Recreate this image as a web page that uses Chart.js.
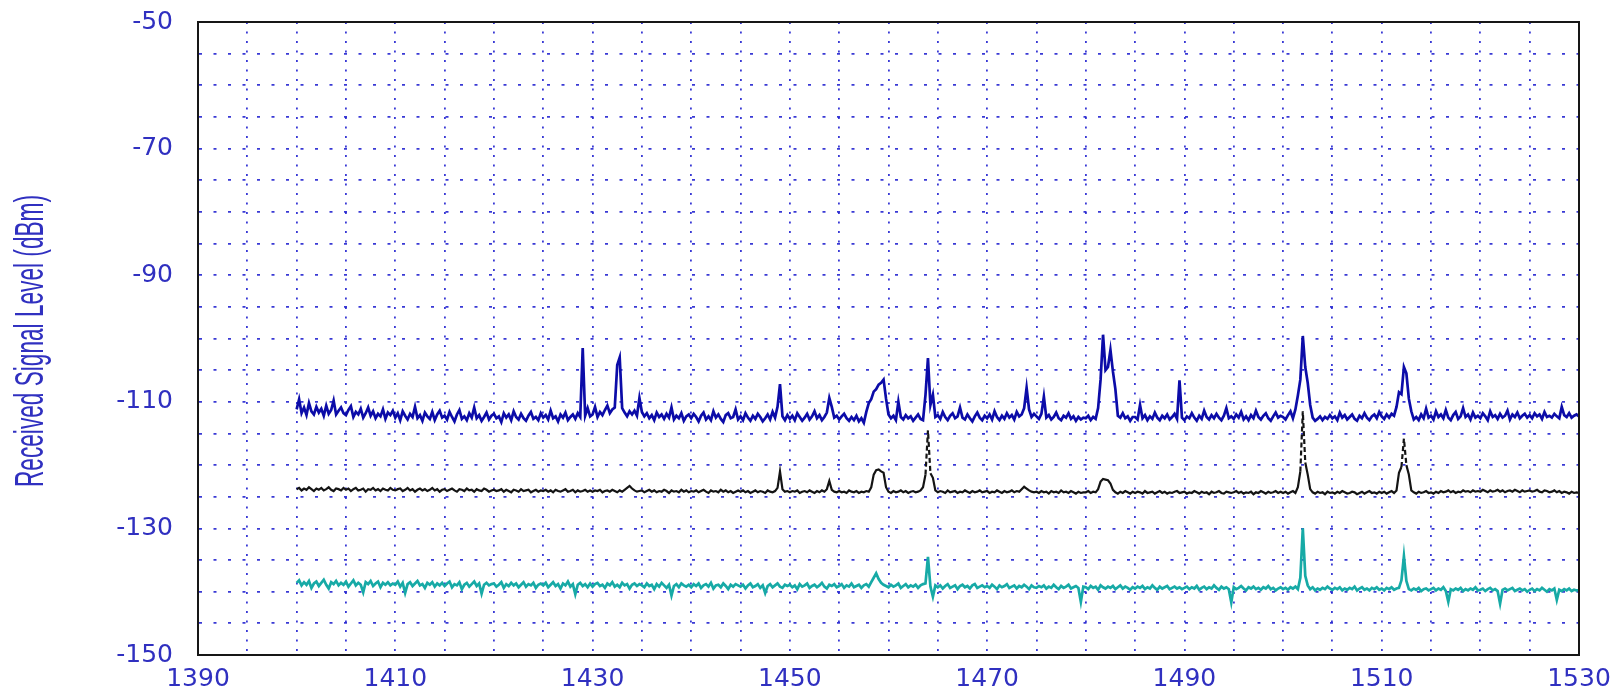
<!DOCTYPE html>
<html>
<head>
<meta charset="utf-8">
<title>Received Signal Level</title>
<script src="https://cdn.jsdelivr.net/npm/chart.js@4.4.1/dist/chart.umd.min.js"></script>
<style>
    html, body { margin: 0; padding: 0; background: #ffffff; }
    #wrap { width: 1621px; height: 694px; }
</style>
</head>
<body>
<div id="wrap"><canvas id="spectrumChart" width="1621" height="694"></canvas></div>
<script>
const AXIS_TITLE = 'Received Signal Level (dBm)';
const LABEL_COLOR = '#3030c0';
const GRID_COLOR = 'rgba(36,36,208,0.9)';

// sweep: 1400 MHz .. 1530 MHz, one sample every 0.25 MHz
const sweepStartMHz = 1400;
const sweepStepMHz = 0.25;

// x axis 1390..1530, y axis -150..-50 (labels every 20, grid every 5)
const xRange = [1390, 1530];
const yRange = [-150, -50];

// upper trace (blue)
const blueTrace = [
    -111.2, -109.6, -111.8, -110.9, -112.1, -110.2, -111.5, -112.0, -110.8, -111.7, -111.1, -112.2, -110.6, -111.9, -111.3, -109.8, -112.0, -111.4, -110.9, -111.8,
    -112.1, -111.3, -110.7, -112.4, -111.6, -112.0, -111.1, -112.5, -111.8, -110.9, -112.2, -111.5, -112.6, -111.9, -112.3, -111.2, -112.7, -111.7, -112.1, -111.4,
    -112.5, -111.8, -112.9, -111.5, -112.2, -112.8, -111.9, -112.4, -110.8, -112.6, -112.1, -113.0, -111.7, -112.3, -112.7, -111.6, -112.9, -112.0, -111.4, -112.5,
    -112.2, -112.8, -111.6, -112.4, -113.1, -112.0, -111.3, -112.7, -112.3, -112.9, -111.8, -112.5, -110.9, -112.6, -112.1, -113.0, -112.4, -111.7, -112.8, -112.2,
    -111.9, -112.6, -112.3, -113.2, -111.8, -112.5, -112.0, -112.9, -111.5, -112.4, -112.8, -111.9, -112.6, -113.0, -112.2, -111.6, -112.7, -112.4, -112.9, -111.8,
    -112.5, -112.1, -112.8, -111.4, -112.6, -112.3, -113.1, -112.0, -112.5, -111.7, -112.9, -112.4, -112.0, -112.7, -111.8, -112.4, -101.5, -112.2, -111.0, -112.3,
    -112.0, -110.8, -112.4, -111.6, -112.1, -111.3, -110.6, -111.8, -111.2, -110.9, -104.2, -103.0, -111.0, -111.7, -112.3, -111.5, -112.0, -111.4, -112.2, -109.4,
    -111.6, -112.3, -111.8, -112.6, -112.1, -112.9, -111.7, -112.4, -112.0, -112.7, -111.9, -112.5, -110.9, -112.8, -112.2, -112.6, -111.8, -113.0, -112.3, -112.0,
    -112.6, -111.9, -112.4, -113.1, -112.2, -111.7, -112.8, -112.3, -112.9, -111.5, -112.5, -112.0, -112.7, -113.2, -112.1, -111.8, -112.6, -112.4, -111.2, -112.8,
    -112.3, -112.9, -111.8, -112.5, -113.0, -112.2, -112.7, -111.9, -112.4, -113.1, -112.6, -112.0, -112.8, -111.6, -112.5, -110.8, -107.2, -112.3, -112.9, -112.1,
    -112.7, -112.2, -112.9, -111.8, -112.4, -113.0, -112.5, -111.9, -112.8, -112.3, -111.5, -112.6, -112.1, -112.9, -112.4, -111.7, -109.4, -110.8, -112.5, -112.2,
    -112.8, -112.3, -111.9, -112.6, -113.0, -112.4, -112.9, -112.2, -113.1, -112.6, -113.3, -111.6, -110.2, -109.6, -108.4, -108.0, -107.3, -107.0, -106.5, -109.5,
    -112.0, -112.6, -112.2, -112.9, -110.0, -112.4, -112.8, -112.1, -112.6, -112.3, -113.0, -112.5, -112.0, -112.7, -112.9, -108.9, -103.1, -110.5, -108.9, -112.4,
    -112.1, -112.7, -111.6, -112.4, -112.9, -112.2, -111.8, -112.6, -112.3, -110.9, -112.5, -112.8, -112.0, -112.6, -113.1, -112.3, -111.7, -112.5, -112.9, -112.2,
    -112.6, -112.0, -112.8, -111.5, -112.4, -112.9, -112.2, -112.7, -111.8, -112.5, -112.1, -112.8, -111.6, -112.3, -112.0, -111.0, -107.8, -111.2, -112.4, -111.9,
    -112.3, -112.7, -111.9, -109.2, -112.5, -112.1, -112.8, -112.4, -111.7, -112.6, -112.9, -112.2, -112.5, -111.8, -112.7, -112.3, -113.0, -112.4, -112.8, -112.5,
    -112.6, -112.2, -112.9, -112.4, -112.7, -111.0, -106.5, -99.4, -105.0, -104.5, -101.8, -105.2, -108.0, -112.2, -112.5, -111.8, -112.6, -112.3, -113.0, -112.4,
    -112.4, -112.8, -110.5, -112.6, -112.1, -112.9, -112.3, -112.7, -111.7, -112.5, -112.9, -112.2, -112.6, -112.0, -112.8, -112.4, -111.9, -112.7, -106.6, -112.5,
    -112.9, -112.3, -112.6, -111.8, -112.5, -113.0, -112.2, -112.7, -111.4, -112.4, -112.8, -112.1, -112.6, -111.9, -112.5, -112.9, -112.2, -111.0, -112.6, -112.3,
    -112.7, -112.0, -112.5, -111.6, -112.8, -112.3, -112.9, -112.1, -112.6, -111.4, -112.4, -112.8, -112.2, -111.8, -112.6, -113.0, -112.3, -111.7, -112.5, -112.2,
    -112.4, -112.8, -112.1, -111.5, -112.6, -111.2, -109.0, -106.5, -99.6, -104.5, -107.0, -110.5, -112.5, -113.0, -112.7, -112.3, -112.9, -112.4, -112.7, -112.1,
    -112.6, -112.3, -112.9, -111.7, -112.5, -112.1, -112.8, -112.4, -112.0, -112.7, -113.0, -112.2, -112.6, -111.8, -112.5, -112.9, -112.3, -112.0, -112.6, -111.6,
    -112.3, -112.7, -112.0, -112.5, -111.9, -112.2, -110.8, -108.5, -108.8, -104.5, -105.5, -109.5, -111.5, -112.8, -112.4, -112.9, -112.0, -112.6, -111.1, -112.5,
    -112.2, -112.8, -111.5, -112.4, -112.0, -112.6, -111.3, -112.5, -112.9, -112.1, -111.6, -112.7, -112.3, -111.0, -112.4, -112.0, -112.8, -111.7, -112.5, -112.2,
    -112.6, -111.8, -112.3, -112.9, -111.5, -112.4, -112.1, -112.7, -111.9, -112.5, -112.2, -111.4, -112.8, -112.0, -112.4, -111.7, -112.6, -112.2, -111.9, -112.5,
    -112.1, -112.6, -111.8, -112.3, -112.0, -112.7, -111.6, -112.4, -112.2, -112.5, -111.9, -112.3, -112.6, -110.8, -112.1, -112.4, -111.8, -112.5, -112.2, -112.0,
    -112.3
];

// middle trace (black)
const blackTrace = [
    -123.8, -123.6, -124.0, -123.7, -123.9, -123.5, -123.8, -124.1, -123.7, -123.9, -123.6, -124.0, -123.8, -123.5, -123.9, -124.1, -123.7, -123.8, -124.0, -123.6,
    -123.9, -123.7, -124.1, -123.8, -123.6, -124.0, -123.9, -123.7, -124.2, -123.8, -123.9, -123.6, -124.0, -123.8, -124.1, -123.7, -123.9, -124.0, -123.6, -123.9,
    -124.0, -123.8, -123.7, -124.1, -123.9, -123.6, -124.0, -123.8, -124.2, -123.9, -123.7, -124.0, -123.8, -124.1, -123.9, -123.6, -124.0, -123.8, -124.2, -123.9,
    -123.8, -124.1, -123.9, -123.7, -124.0, -124.2, -123.8, -123.9, -124.1, -123.7, -124.0, -123.9, -124.2, -123.8, -124.0, -124.1, -123.7, -123.9, -124.2, -124.0,
    -123.9, -124.1, -124.0, -123.8, -124.2, -123.9, -124.1, -124.3, -123.9, -124.0, -124.2, -123.8, -124.1, -124.0, -123.9, -124.3, -124.1, -123.9, -124.2, -124.0,
    -124.1, -123.9, -124.2, -124.0, -124.3, -123.9, -124.1, -124.2, -124.0, -123.8, -124.2, -124.1, -123.9, -124.3, -124.0, -124.2, -124.1, -123.9, -124.2, -124.0,
    -124.2, -124.0, -124.1, -123.9, -124.3, -124.1, -124.0, -124.2, -123.9, -124.1, -124.3, -124.0, -124.2, -123.9, -123.6, -123.3, -123.7, -124.0, -124.2, -124.1,
    -124.0, -124.3, -124.1, -123.9, -124.2, -124.0, -124.3, -124.1, -124.2, -123.9, -124.1, -124.4, -124.0, -124.2, -124.1, -124.3, -123.9, -124.2, -124.0, -124.3,
    -124.1, -124.2, -124.0, -124.3, -124.1, -123.9, -124.2, -124.4, -124.0, -124.2, -124.1, -124.3, -123.9, -124.2, -124.0, -124.3, -124.1, -124.4, -124.2, -124.0,
    -124.2, -124.0, -124.3, -124.1, -124.4, -124.2, -124.0, -124.3, -124.1, -124.2, -124.4, -124.0, -124.2, -124.3, -124.1, -123.6, -121.0, -123.8, -124.2, -124.1,
    -124.3, -124.1, -124.2, -124.0, -124.4, -124.2, -124.1, -124.3, -124.0, -124.2, -124.4, -124.1, -124.3, -124.0, -124.2, -123.8, -122.5, -123.9, -124.2, -124.3,
    -124.1, -124.3, -124.2, -124.4, -124.0, -124.2, -124.3, -124.1, -124.4, -124.2, -124.3, -124.1, -124.2, -123.5, -121.5, -120.8, -120.7, -121.0, -121.2, -123.5,
    -124.2, -124.4, -124.1, -124.3, -124.2, -124.0, -124.3, -124.1, -124.4, -124.2, -124.1, -124.3, -124.2, -124.0, -123.5, -121.5, -114.5, -121.3, -122.0, -124.0,
    -124.3, -124.1, -124.2, -124.4, -124.0, -124.3, -124.2, -124.1, -124.4, -124.2, -124.3, -124.0, -124.2, -124.4, -124.1, -124.3, -124.2, -124.0, -124.3, -124.2,
    -124.1, -124.4, -124.2, -124.3, -124.0, -124.2, -124.4, -124.1, -124.3, -124.2, -124.0, -124.3, -124.1, -124.2, -123.8, -123.4, -123.7, -124.0, -124.2, -124.3,
    -124.2, -124.4, -124.1, -124.3, -124.2, -124.5, -124.1, -124.3, -124.2, -124.4, -124.0, -124.3, -124.2, -124.4, -124.1, -124.3, -124.5, -124.2, -124.4, -124.3,
    -124.3, -124.1, -124.4, -124.2, -124.3, -123.8, -122.6, -122.2, -122.3, -122.4, -122.9, -123.9, -124.3, -124.5, -124.2, -124.4, -124.1, -124.3, -124.5, -124.2,
    -124.4, -124.2, -124.3, -124.5, -124.1, -124.4, -124.3, -124.2, -124.5, -124.3, -124.1, -124.4, -124.2, -124.5, -124.3, -124.4, -124.2, -124.1, -124.4, -124.3,
    -124.2, -124.5, -124.3, -124.4, -124.1, -124.3, -124.5, -124.2, -124.4, -124.3, -124.6, -124.2, -124.4, -124.3, -124.1, -124.4, -124.5, -124.2, -124.3, -124.4,
    -124.3, -124.1, -124.4, -124.2, -124.5, -124.3, -124.4, -124.2, -124.6, -124.3, -124.4, -124.1, -124.3, -124.5, -124.2, -124.4, -124.3, -124.1, -124.4, -124.2,
    -124.4, -124.2, -124.5, -124.3, -124.1, -124.4, -123.5, -121.0, -111.5, -119.6, -121.5, -123.8, -124.3, -124.5, -124.2, -124.4, -124.3, -124.6, -124.2, -124.4,
    -124.3, -124.5, -124.2, -124.4, -124.1, -124.3, -124.5, -124.4, -124.2, -124.3, -124.6, -124.4, -124.2, -124.5, -124.3, -124.1, -124.4, -124.3, -124.5, -124.2,
    -124.4, -124.2, -124.5, -124.3, -124.1, -124.4, -124.0, -121.2, -120.3, -115.8, -120.0, -121.5, -124.0, -124.3, -124.5, -124.2, -124.4, -124.3, -124.1, -124.4,
    -124.3, -124.5, -124.2, -124.4, -124.1, -124.3, -124.2, -124.0, -124.3, -124.1, -124.4, -124.2, -124.3, -124.0, -124.2, -124.1, -124.3, -124.0, -124.2, -124.1,
    -124.2, -123.9, -124.1, -124.3, -124.0, -124.2, -124.1, -123.9, -124.2, -124.0, -124.3, -124.1, -124.0, -124.2, -123.9, -124.1, -124.3, -124.0, -124.2, -124.1,
    -124.0, -124.2, -124.1, -123.9, -124.2, -124.3, -124.0, -124.1, -124.3, -124.2, -124.0, -124.3, -124.1, -124.4, -124.2, -124.3, -124.5, -124.2, -124.4, -124.3,
    -124.4
];

// lower trace (cyan)
const cyanTrace = [
    -138.6, -138.2, -139.0, -138.5, -138.9, -138.3, -139.4, -138.7, -138.4, -139.1, -138.6, -138.1, -138.9, -139.5, -138.5, -138.8, -138.3, -139.0, -138.6, -138.9,
    -138.4, -139.2, -138.7, -138.2, -139.0, -138.6, -138.9, -140.1, -138.5, -138.8, -138.3, -139.1, -138.7, -138.4, -139.3, -138.6, -138.9, -138.5, -139.0, -138.7,
    -138.9, -138.4, -139.2, -138.6, -140.2, -138.8, -138.5, -139.1, -138.7, -138.3, -139.0, -138.8, -139.4, -138.6, -138.9, -138.5, -139.2, -138.7, -139.0, -138.6,
    -139.1, -138.7, -138.4, -139.3, -138.8, -139.0, -138.5, -139.6, -138.9, -138.6, -139.2, -138.8, -138.4, -139.1, -138.7, -140.3, -138.9, -138.6, -139.0, -138.8,
    -138.7, -139.2, -138.9, -138.5, -139.4, -138.8, -139.1, -138.6, -139.0, -138.7, -139.3, -138.9, -138.5, -139.2, -138.8, -139.0, -138.6, -139.4, -138.9, -138.7,
    -139.0, -138.6, -139.3, -138.9, -138.5, -139.1, -138.8, -139.5, -138.7, -139.0, -138.4, -139.2, -138.8, -140.4, -138.9, -138.6, -139.1, -138.8, -139.3, -138.7,
    -139.2, -138.8, -138.6, -139.1, -138.9, -139.4, -138.7, -139.0, -138.5, -139.2, -138.9, -139.3, -138.6, -139.0, -138.8, -139.5, -138.9, -138.7, -139.1, -138.8,
    -139.0, -139.3, -138.7, -139.1, -138.9, -139.6, -138.8, -139.2, -138.6, -139.0, -139.4, -138.9, -140.6, -139.1, -138.8, -139.3, -138.7, -139.0, -139.2, -138.9,
    -139.3, -138.8, -139.1, -138.7, -139.4, -139.0, -138.8, -139.2, -138.6, -139.5, -139.0, -138.9, -139.3, -138.7, -139.1, -139.6, -138.9, -139.2, -138.8, -139.0,
    -139.2, -138.9, -139.5, -139.0, -138.7, -139.3, -139.1, -138.8, -139.4, -139.0, -140.2, -139.1, -138.8, -139.3, -139.0, -138.7, -139.2, -139.4, -138.9, -139.1,
    -138.9, -139.3, -139.0, -139.6, -138.8, -139.2, -139.0, -138.7, -139.4, -139.1, -138.9, -139.3, -139.0, -138.6, -139.2, -139.5, -138.9, -139.1, -138.8, -139.3,
    -139.1, -138.8, -139.4, -139.0, -139.2, -138.7, -139.3, -139.1, -138.9, -139.4, -139.0, -138.8, -139.2, -138.5, -137.8, -137.1, -138.0, -138.6, -138.9, -139.1,
    -139.3, -138.9, -139.2, -139.0, -138.7, -139.4, -139.1, -138.8, -139.3, -139.0, -139.2, -138.9, -139.4, -139.0, -138.8, -138.7, -134.5, -139.2, -140.8, -139.0,
    -139.3, -139.0, -139.5, -139.1, -138.8, -139.4, -139.2, -139.0, -139.6, -139.1, -138.9, -139.3, -139.1, -139.5, -139.0, -138.8, -139.4, -139.2, -139.0, -139.3,
    -139.1, -139.4, -138.9, -139.2, -139.6, -139.0, -139.3, -139.1, -138.8, -139.4, -139.2, -139.0, -139.5, -139.1, -139.3, -138.9, -139.2, -139.6, -139.0, -139.3,
    -139.4, -139.1, -139.3, -139.0, -139.5, -139.2, -139.4, -138.9, -139.3, -139.6, -139.1, -139.4, -139.2, -138.9, -139.5, -139.3, -139.1, -139.4, -141.6, -139.2,
    -139.3, -139.6, -139.1, -139.4, -139.2, -139.7, -139.0, -139.3, -139.5, -139.2, -139.4, -139.1, -139.6, -139.3, -139.0, -139.5, -139.2, -139.4, -139.7, -139.3,
    -139.5, -139.2, -139.4, -139.1, -139.6, -139.3, -139.5, -139.0, -139.4, -139.7, -139.2, -139.5, -139.3, -139.1, -139.6, -139.4, -139.2, -139.5, -139.3, -139.6,
    -139.4, -139.2, -139.6, -139.3, -139.5, -139.1, -139.7, -139.4, -139.2, -139.6, -139.3, -139.5, -139.0, -139.4, -139.7, -139.2, -139.5, -139.3, -139.6, -141.7,
    -139.3, -139.6, -139.4, -139.1, -139.5, -139.8, -139.3, -139.5, -139.2, -139.6, -139.4, -139.7, -139.3, -139.5, -139.1, -139.6, -139.4, -139.8, -139.5, -139.3,
    -139.6, -139.4, -139.7, -139.3, -139.5, -139.2, -139.6, -137.8, -130.0, -137.5, -139.0, -139.6, -139.3, -139.8, -139.5, -139.7, -139.4, -139.6, -139.2, -139.5,
    -139.7, -139.4, -139.6, -139.3, -139.8, -139.5, -139.7, -139.4, -139.6, -139.2, -139.8, -139.5, -139.3, -139.7, -139.5, -139.8, -139.4, -139.6, -139.3, -139.7,
    -139.5, -139.8, -139.4, -139.6, -139.3, -139.7, -139.5, -139.4, -138.2, -134.4, -138.3, -139.6, -139.8, -139.5, -139.7, -139.4, -139.9, -139.6, -139.5, -139.8,
    -139.6, -139.4, -139.8, -139.5, -139.7, -139.3, -139.9, -141.6, -139.6, -139.8, -139.5, -139.7, -139.4, -139.9, -139.6, -139.8, -139.5, -139.7, -139.3, -139.8,
    -139.7, -139.5, -139.9, -139.6, -139.4, -139.8, -139.6, -139.9, -141.9, -139.7, -139.5, -139.8, -139.6, -139.4, -139.9, -139.7, -139.5, -139.8, -139.6, -140.0,
    -139.7, -139.5, -139.9, -139.6, -139.8, -139.4, -139.7, -140.0, -139.6, -139.8, -139.5, -141.3, -139.7, -139.9, -139.6, -139.8, -139.5, -139.9, -139.7, -139.8,
    -139.8
];

function toPoints(trace) {
    return trace.map((level, i) => ({ x: sweepStartMHz + i * sweepStepMHz, y: level }));
}

// the x-axis labels sit every 20 MHz, grid lines every 5 MHz
function xLabel(value) {
    return Math.round(value - xRange[0]) % 20 === 0 ? String(value) : '';
}

function yLabel(value) {
    return Math.round(value - yRange[0]) % 20 === 0 ? String(value) : '';
}

// frame on all four sides of the plot
const framePlugin = {
    id: 'frame',
    afterDatasetsDraw(chart) {
        const { ctx, chartArea } = chart;
        ctx.save();
        ctx.strokeStyle = '#161616';
        ctx.lineWidth = 2;
        ctx.strokeRect(chartArea.left, chartArea.top,
            chartArea.right - chartArea.left, chartArea.bottom - chartArea.top);
        ctx.restore();
    }
};

// tall, narrow axis title like the original plot
const axisTitlePlugin = {
    id: 'axisTitle',
    afterDraw(chart) {
        const { ctx } = chart;
        ctx.save();
        ctx.font = '40px "Liberation Sans", Arial, sans-serif';
        ctx.fillStyle = LABEL_COLOR;
        ctx.textAlign = 'center';
        ctx.textBaseline = 'alphabetic';
        const squeeze = 292 / ctx.measureText(AXIS_TITLE).width;
        ctx.translate(43, 341);
        ctx.rotate(-Math.PI / 2);
        ctx.scale(squeeze, 1);
        ctx.fillText(AXIS_TITLE, 0, 0);
        ctx.restore();
    }
};

function createChart() {
    const canvas = document.getElementById('spectrumChart');
    const tickFont = { family: '"DejaVu Sans", sans-serif', size: 25 };

    return new Chart(canvas, {
        type: 'line',
        data: {
            datasets: [
                {
                    label: 'Trace 2',
                    data: toPoints(blackTrace),
                    borderColor: '#141414',
                    borderWidth: 2.2,
                    pointRadius: 0,
                    tension: 0,
                    segment: {
                        borderDash: ctx => Math.abs(ctx.p1.parsed.y - ctx.p0.parsed.y) > 3 ? [5, 3] : undefined
                    }
                },
                {
                    label: 'Trace 1',
                    data: toPoints(blueTrace),
                    borderColor: '#0c0ca8',
                    borderWidth: 2.7,
                    pointRadius: 0,
                    tension: 0
                },
                {
                    label: 'Trace 3',
                    data: toPoints(cyanTrace),
                    borderColor: '#17aaa6',
                    borderWidth: 2.7,
                    pointRadius: 0,
                    tension: 0
                }
            ]
        },
        options: {
            animation: false,
            responsive: false,
            devicePixelRatio: 1,
            layout: { padding: { top: 22, right: 42, left: 0, bottom: 0 } },
            plugins: {
                legend: { display: false },
                tooltip: { enabled: false }
            },
            scales: {
                x: {
                    type: 'linear',
                    min: xRange[0],
                    max: xRange[1],
                    afterFit: scale => {
                        scale.height = 39;
                        scale.paddingLeft = 0;
                        scale.paddingRight = 0;
                    },
                    ticks: {
                        stepSize: 5,
                        autoSkip: false,
                        maxRotation: 0,
                        padding: 9,
                        color: LABEL_COLOR,
                        font: tickFont,
                        callback: xLabel
                    },
                    grid: { color: GRID_COLOR, lineWidth: 1.8, drawTicks: false },
                    border: { display: true, color: '#161616', width: 2, dash: [2, 7.5] }
                },
                y: {
                    type: 'linear',
                    min: yRange[0],
                    max: yRange[1],
                    afterFit: scale => {
                        scale.width = 198;
                        scale.paddingTop = 0;
                        scale.paddingBottom = 0;
                    },
                    ticks: {
                        stepSize: 5,
                        autoSkip: false,
                        padding: 25,
                        color: LABEL_COLOR,
                        font: tickFont,
                        callback: yLabel
                    },
                    grid: { color: GRID_COLOR, lineWidth: 1.8, drawTicks: false },
                    border: { display: true, color: '#161616', width: 2, dash: [3, 11.5] }
                }
            }
        },
        plugins: [framePlugin, axisTitlePlugin]
    });
}

createChart();
</script>
</body>
</html>
